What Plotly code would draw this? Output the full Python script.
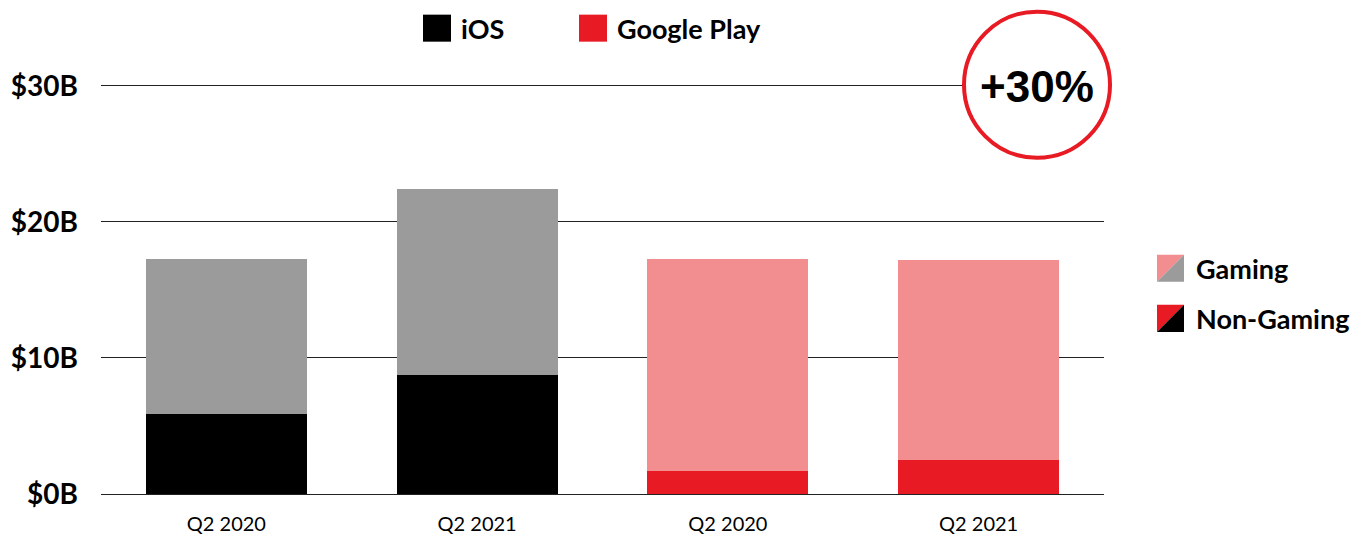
import plotly.graph_objects as go

# ---- data ----
platforms = ["iOS", "iOS", "Google Play", "Google Play"]
quarters = ["Q2 2020", "Q2 2021", "Q2 2020", "Q2 2021"]
non_gaming = [5.88, 8.75, 1.69, 2.50]
gaming = [11.40, 13.68, 15.59, 14.70]
y_ticks = [0, 10, 20, 30]
y_tick_labels = ["$0B", "$10B", "$20B", "$30B"]
growth_label = "+30%"

# ---- styles ----
BLACK = "#000000"
GRAY = "#9B9B9B"
RED = "#E81A23"
PINK = "#F28D90"
ng_colors = [BLACK if p == "iOS" else RED for p in platforms]
g_colors = [GRAY if p == "iOS" else PINK for p in platforms]

W, H = 1365, 536
L, R, T, B = 101, 1104, 83.3, 494
x_idx = list(range(len(quarters)))


def px(x):
    return (x - L) / (R - L)


def py(y):
    return (B - y) / (B - T)


fig = go.Figure()
fig.add_trace(go.Bar(x=x_idx, y=non_gaming, marker=dict(color=ng_colors, line=dict(width=0)),
                     width=0.643, showlegend=False, name="Non-Gaming"))
fig.add_trace(go.Bar(x=x_idx, y=gaming, marker=dict(color=g_colors, line=dict(width=0)),
                     width=0.643, showlegend=False, name="Gaming"))

shapes = []
annotations = []

# circle badge
cx, cy, r = 1037, 85, 73
shapes.append(dict(type="circle", xref="paper", yref="paper",
                   x0=px(cx - r), x1=px(cx + r), y0=py(cy + r), y1=py(cy - r),
                   line=dict(color=RED, width=4), fillcolor="white", layer="above"))
annotations.append(dict(x=px(cx), y=py(cy + 2), xref="paper", yref="paper", text=growth_label,
                        showarrow=False, xanchor="center", yanchor="middle",
                        font=dict(family="Liberation Sans", size=44, color="black", weight="bold")))

# top legend
for label, color, sx in [("iOS", BLACK, 423), ("Google Play", RED, 579)]:
    shapes.append(dict(type="rect", xref="paper", yref="paper",
                       x0=px(sx), x1=px(sx + 28), y0=py(42), y1=py(15),
                       line=dict(width=0), fillcolor=color))
    annotations.append(dict(x=px(sx + 36), y=py(29), xref="paper", yref="paper", text=label,
                            showarrow=False, xanchor="left", yanchor="middle",
                            font=dict(family="Lato", size=27, color="black", weight="bold")))

# right legend (diagonal split icons)
for label, c1, c2, top in [("Gaming", PINK, GRAY, 255), ("Non-Gaming", RED, BLACK, 305)]:
    x0, x1, y0, y1 = px(1157), px(1184), py(top), py(top + 27)
    shapes.append(dict(type="path", xref="paper", yref="paper",
                       path=f"M{x0},{y0} L{x1},{y0} L{x0},{y1} Z",
                       line=dict(width=0), fillcolor=c1))
    shapes.append(dict(type="path", xref="paper", yref="paper",
                       path=f"M{x1},{y0} L{x1},{y1} L{x0},{y1} Z",
                       line=dict(width=0), fillcolor=c2))
    annotations.append(dict(x=px(1194), y=py(top + 14), xref="paper", yref="paper", text=label,
                            showarrow=False, xanchor="left", yanchor="middle",
                            font=dict(family="Lato", size=27, color="black", weight="bold")))

fig.update_layout(
    width=W, height=H,
    margin=dict(l=L, r=W - R, t=T, b=H - B, pad=0, autoexpand=False),
    paper_bgcolor="white", plot_bgcolor="white",
    barmode="stack", bargap=0,
    shapes=shapes, annotations=annotations,
    xaxis=dict(range=[-0.5, 3.5], tickmode="array", tickvals=x_idx, ticktext=quarters,
               showgrid=False, zeroline=False, showline=False, ticks="", automargin=False,
               tickfont=dict(family="Lato", size=20, color="black"), ticklabelstandoff=16),
    yaxis=dict(range=[0, 30.2], tickmode="array", tickvals=y_ticks, ticktext=y_tick_labels,
               showgrid=True, gridcolor="#222222", gridwidth=1,
               zeroline=True, zerolinecolor="#222222", zerolinewidth=1,
               showline=False, ticks="", automargin=False,
               tickfont=dict(family="Lato", size=28, color="black", weight="bold"),
               ticklabelstandoff=22),
    hovermode=False,
)

fig.write_html("out.html")
